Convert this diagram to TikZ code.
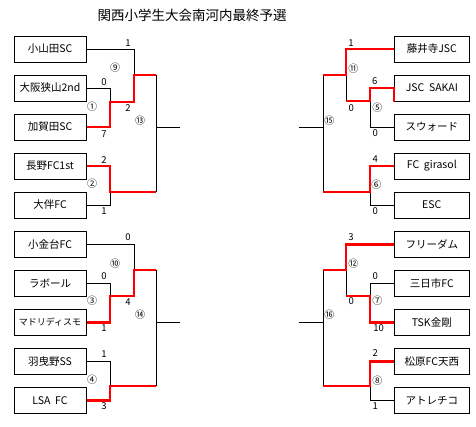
\documentclass[tikz,border=0pt]{standalone}
\usepackage{fontspec}
\setmainfont{Noto Sans CJK JP}
\begin{document}
\begin{tikzpicture}[x=1pt,y=-1pt,
  team/.style={draw,line width=1pt,minimum width=72pt,minimum height=26pt,inner sep=0pt,font=\fontsize{10.5}{12}\selectfont},
  rteam/.style={team,minimum width=75pt},
  wire/.style={line width=1pt,black},
  win/.style={line width=2.3pt,red,line join=miter},
  score/.style={inner sep=0pt,font=\fontsize{9.5}{10}\selectfont},
  mno/.style={inner sep=0pt,font=\fontsize{10}{11}\selectfont}]
\useasboundingbox (0,0) rectangle (476,426);
\node[inner sep=0pt,font=\fontsize{13.5}{15}\selectfont] (title) at (192,15.7) {関西小学生大会南河内最終予選};
% left teams
\node[team] (b1) at (50,49) {小山田SC};
\node[team] (b2) at (50,88) {大阪狭山2nd};
\node[team] (b3) at (50,127) {加賀田SC};
\node[team] (b4) at (50,166) {長野FC1st};
\node[team] (b5) at (50,205) {大伴FC};
\node[team] (b6) at (50,244.5) {小金台FC};
\node[team] (b7) at (50,283.5) {ラボール};
\node[team,font=\fontsize{9}{11}\selectfont] (b8) at (50,322.5) {マドリディスモ};
\node[team] (b9) at (50,361.5) {羽曳野SS};
\node[team] (b10) at (50,400.5) {LSA\ \ FC};
% right teams
\node[rteam] (r1) at (431.8,49) {藤井寺JSC};
\node[rteam] (r2) at (431.8,88) {JSC\ \ SAKAI};
\node[rteam] (r3) at (431.8,127) {スウォード};
\node[rteam] (r4) at (431.8,166) {FC\ \ girasol};
\node[rteam] (r5) at (431.8,205) {ESC};
\node[rteam] (r6) at (431.8,244.5) {フリーダム};
\node[rteam] (r7) at (431.8,283.5) {三日市FC};
\node[rteam] (r8) at (431.8,322.5) {TSK金剛};
\node[rteam] (r9) at (431.8,361.5) {松原FC天西};
\node[rteam] (r10) at (431.8,400.5) {アトレチコ};
% junction coordinates
\coordinate (a1) at (110,102);
\coordinate (a9) at (134,75);
\coordinate (a2) at (110,192);
\coordinate (a13t) at (156,75);
\coordinate (a13b) at (156,192);
\coordinate (a13) at (156,127);
\coordinate (o13) at (180,127);
\coordinate (a3) at (110,296);
\coordinate (a10) at (134,270);
\coordinate (a4) at (110,386);
\coordinate (a14t) at (156,270);
\coordinate (a14b) at (156,386);
\coordinate (a14) at (156,322.5);
\coordinate (o14) at (180,322.5);
\coordinate (c11) at (346,75);
\coordinate (c11b) at (346,101);
\coordinate (c5) at (370,101);
\coordinate (c6) at (370,192);
\coordinate (c15t) at (323,75);
\coordinate (c15b) at (323,192);
\coordinate (c15) at (323,127);
\coordinate (o15) at (299,127);
\coordinate (c12) at (346,270);
\coordinate (c12b) at (346,296);
\coordinate (c7) at (370,296);
\coordinate (c8) at (370,386);
\coordinate (c16t) at (323,270);
\coordinate (c16b) at (323,386);
\coordinate (c16) at (323,322.5);
\coordinate (o16) at (299,322.5);
% black wires
\draw[wire] (b2.east) -| (a1);
\draw[wire] (b1.east) -| (a9);
\draw[wire] (b5.east) -| (a2);
\draw[wire] (a13t) -- (a13b);
\draw[wire] (a13) -- (o13);
\draw[wire] (b7.east) -| (a3);
\draw[wire] (b6.east) -| (a10);
\draw[wire] (b9.east) -| (a4);
\draw[wire] (a14t) -- (a14b);
\draw[wire] (a14) -- (o14);
\draw[wire] (c11) -- (c11b);
\draw[wire] (c5) |- (r3.west);
\draw[wire] (c6) |- (r5.west);
\draw[wire] (c15t) -- (c15b);
\draw[wire] (c15) -- (o15);
\draw[wire] (c12) -- (c12b);
\draw[wire] (c7) |- (r7.west);
\draw[wire] (c8) |- (r10.west);
\draw[wire] (c16t) -- (c16b);
\draw[wire] (c16) -- (o16);
% winners
\draw[win] (b3.east) -| (a1) -| (a9) -- (a13t);
\draw[win] (b4.east) -| (a2) -- (a13b);
\draw[win] (b8.east) -| (a3) -| (a10) -- (a14t);
\draw[win] (b10.east) -| (a4) -- (a14b);
\draw[win] (r1.west) -| (c11) -- (c15t);
\draw[win] (c11b) -- (c5) |- (r2.west) -- (r2.south west);
\draw[win] (r4.west) -| (c6) -- (c15b);
\draw[win] (r6.west) -| (c12) -- (c16t);
\draw[win] (c12b) -- (c7) |- (r8.west);
\draw[win] (r9.west) -| (c8) -- (c16b);
% left top labels
\node[score] (s1) at (128,43) {1};
\node[mno] (m9) at (115,68) {⑨};
\node[score] (s2) at (104,82) {0};
\node[mno] (m1) at (92,107) {①};
\node[score] (s3) at (128,108) {2};
\node[mno] (m13) at (140,121) {⑬};
\node[score] (s4) at (104,134) {7};
\node[score] (s5) at (104,160) {2};
\node[mno] (m2) at (92,184) {②};
\node[score] (s6) at (104,211) {1};
% left bottom labels
\node[score] (s7) at (128,237.3) {0};
\node[mno] (m10) at (115,263.3) {⑩};
\node[score] (s8) at (104,275.7) {0};
\node[mno] (m3) at (92,301) {③};
\node[score] (s9) at (128,301.7) {4};
\node[mno] (m14) at (140,314.3) {⑭};
\node[score] (s10) at (104,327.7) {1};
\node[score] (s11) at (104,354) {1};
\node[mno] (m4) at (92,379.3) {④};
\node[score] (s12) at (104,405.7) {3};
% right top labels
\node[score] (s13) at (351,42.7) {1};
\node[mno] (m11) at (353.3,68.7) {⑪};
\node[score] (s14) at (374.7,81) {6};
\node[score] (s15) at (351.3,107.7) {0};
\node[mno] (m5) at (377.3,107.3) {⑤};
\node[mno] (m15) at (329.3,120.7) {⑮};
\node[score] (s16) at (375.3,133.3) {0};
\node[score] (s17) at (375.3,159.3) {4};
\node[mno] (m6) at (376.3,184.3) {⑥};
\node[score] (s18) at (375.3,211) {0};
% right bottom labels
\node[score] (s19) at (351,237.3) {3};
\node[mno] (m12) at (353.3,263.3) {⑫};
\node[score] (s20) at (375.3,275.7) {0};
\node[score] (s21) at (351.3,301) {0};
\node[mno] (m7) at (377.3,301) {⑦};
\node[mno] (m16) at (329.3,315) {⑯};
\node[score] (s22) at (378.7,327.7) {10};
\node[score] (s23) at (375.3,353.3) {2};
\node[mno] (m8) at (377.3,380.3) {⑧};
\node[score] (s24) at (375.3,405.7) {1};
\end{tikzpicture}
\end{document}
